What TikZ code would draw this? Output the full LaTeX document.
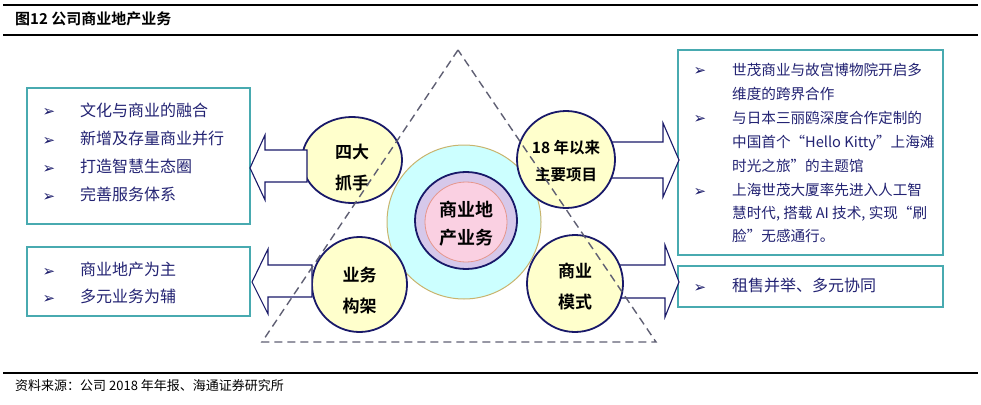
\documentclass[tikz,border=0pt]{standalone}
\usepackage{fontspec}
\setmainfont{Noto Sans CJK SC}[BoldFont={Noto Sans CJK SC Bold}]
\newfontfamily\dejavu{DejaVu Sans}
\usetikzlibrary{shapes.geometric}
\definecolor{teal1}{RGB}{72,170,176}
\definecolor{navy1}{RGB}{25,25,105}
\definecolor{txtblue}{RGB}{35,35,115}
\definecolor{circfill}{RGB}{255,255,204}
\definecolor{cyanfill}{RGB}{204,255,255}
\definecolor{tanline}{RGB}{200,180,110}
\definecolor{purplefill}{RGB}{214,200,234}
\definecolor{pinkfill}{RGB}{250,208,226}
\definecolor{salmon}{RGB}{230,150,140}
\definecolor{dashgray}{RGB}{95,95,115}
\tikzset{
  infobox/.style={draw=teal1, line width=2.2pt, fill=white},
  smallcirc/.style={ellipse, draw=navy1, line width=1.8pt, fill=circfill, inner sep=0pt},
  circlabel/.style={font=\bfseries\fontsize{17}{31}\selectfont, align=center, inner sep=0pt},
  blockarrow/.style={draw=navy1, line width=1.1pt, fill=white, line join=miter},
  bul/.style={font=\dejavu\fontsize{15}{15}\selectfont, text=navy1, inner sep=0pt},
  itemL/.style={font=\fontsize{16}{16}\selectfont, text=txtblue, anchor=west, inner sep=0pt, text height=0.85em, text depth=0.15em},
  itemR/.style={font=\fontsize{14.6}{14.6}\selectfont, text=txtblue, anchor=west, inner sep=0pt, text height=0.85em, text depth=0.15em},
  tri/.style={draw=dashgray, line width=1.4pt, dash pattern=on 8pt off 5pt}
}
\begin{document}
\begin{tikzpicture}[x=1pt,y=-1pt]
\useasboundingbox (0,0) rectangle (981,404);
% header and footer rules
\coordinate (hl1) at (3,5); \coordinate (hr1) at (978,5);
\coordinate (hl2) at (3,35); \coordinate (hr2) at (978,35);
\coordinate (fl) at (3,373); \coordinate (fr) at (978,373);
\draw[line width=1.3pt] (hl1) -- (hr1);
\draw[line width=1.3pt] (hl2) -- (hr2);
\draw[line width=1.3pt] (fl) -- (fr);
\node[anchor=west, font=\bfseries\fontsize{15}{15}\selectfont, inner sep=0pt, text height=0.85em, text depth=0.15em] (title) at (15,21) {图12 公司商业地产业务};
\node[anchor=west, font=\fontsize{13}{13}\selectfont, inner sep=0pt, text height=0.85em, text depth=0.15em] (source) at (15,387) {资料来源：公司 2018 年年报、海通证券研究所};

% left boxes
\draw[infobox] (27,88) rectangle (250,224);
\draw[infobox] (27,247) rectangle (250,316);
\node[bul] (lb1) at (49,113) {➢};
\node[itemL] (lt1) at (80,113) {文化与商业的融合};
\node[bul] (lb2) at (49,141) {➢};
\node[itemL] (lt2) at (80,141) {新增及存量商业并行};
\node[bul] (lb3) at (49,169) {➢};
\node[itemL] (lt3) at (80,169) {打造智慧生态圈};
\node[bul] (lb4) at (49,197) {➢};
\node[itemL] (lt4) at (80,197) {完善服务体系};
\node[bul] (lb5) at (49,272) {➢};
\node[itemL] (lt5) at (80,272) {商业地产为主};
\node[bul] (lb6) at (49,299) {➢};
\node[itemL] (lt6) at (80,299) {多元业务为辅};

% right boxes
\draw[infobox] (678,50) rectangle (943,255);
\draw[infobox] (678,266) rectangle (943,307);
\node[bul] (rb1) at (700,72) {➢};
\node[itemR] (rt1) at (732,72) {世茂商业与故宫博物院开启多};
\node[itemR] (rt2) at (732,96) {维度的跨界合作};
\node[bul] (rb2) at (700,120) {➢};
\node[itemR] (rt3) at (732,120) {与日本三丽鸥深度合作定制的};
\node[itemR] (rt4) at (732,144) {中国首个“Hello Kitty”上海滩};
\node[itemR] (rt5) at (732,168) {时光之旅”的主题馆};
\node[bul] (rb3) at (700,192) {➢};
\node[itemR] (rt6) at (732,192) {上海世茂大厦率先进入人工智};
\node[itemR] (rt7) at (732,215) {慧时代, 搭载 AI 技术, 实现“刷};
\node[itemR] (rt8) at (732,238) {脸”无感通行。};
\node[bul] (rb4) at (700,288) {➢};
\node[itemR, font=\fontsize{16}{16}\selectfont] (rt9) at (732,288) {租售并举、多元协同};

% right arrows (behind circles)
\coordinate (ra1) at (679,160);
\draw[blockarrow] (ra1) -- ++(-16,-37) -- ++(0,19) -- ++(-95,0) -- ++(0,36) -- ++(95,0) -- ++(0,19) -- cycle;
\coordinate (ra2) at (679,282);
\draw[blockarrow] (ra2) -- ++(-14,-37) -- ++(0,20) -- ++(-90,0) -- ++(0,33) -- ++(90,0) -- ++(0,19) -- cycle;

% central circles
\node[circle, draw=tanline, line width=1pt, fill=cyanfill, minimum size=154pt, inner sep=0pt] (core3) at (464,222) {};
\node[ellipse, draw=navy1, line width=1.8pt, fill=purplefill, minimum width=102pt, minimum height=97pt, inner sep=0pt] (core2) at (466,220.5) {};
\node[ellipse, draw=salmon, line width=0.8pt, fill=pinkfill, minimum width=82pt, minimum height=80pt, inner sep=0pt] (core1) at (466,222) {};
\node[circlabel, font=\bfseries\fontsize{18}{28}\selectfont] (coretxt) at (466,224) {商业地\\产业务};

% small circles
\node[smallcirc, minimum width=100pt, minimum height=86pt] (c1) at (352,160) {};
\node[smallcirc, minimum width=98pt, minimum height=97pt] (c2) at (566,159.5) {};
\node[smallcirc, minimum width=95pt, minimum height=95pt] (c3) at (359.5,284.5) {};
\node[smallcirc, minimum width=96pt, minimum height=97pt] (c4) at (575,283.5) {};
\node[circlabel] (c1t) at (352,168) {四大\\抓手};
\node[circlabel, font=\bfseries\fontsize{15.5}{27}\selectfont] (c2t) at (566,161.5) {18 年以来\\主要项目};
\node[circlabel] (c3t) at (359.5,291) {业务\\构架};
\node[circlabel] (c4t) at (575,286) {商业\\模式};

% left arrows (on top)
\coordinate (la1) at (250,168);
\draw[blockarrow] (la1) -- ++(15,-33) -- ++(0,15) -- ++(42,0) -- ++(0,32) -- ++(-42,0) -- ++(0,18) -- cycle;
\coordinate (la2) at (252,282);
\draw[blockarrow] (la2) -- ++(16,-33) -- ++(0,16) -- ++(44,0) -- ++(0,32) -- ++(-44,0) -- ++(0,17) -- cycle;

% dashed triangle
\coordinate (tA) at (458,50);
\coordinate (tB) at (262,342);
\coordinate (tC) at (656,342);
\draw[tri] (tA) -- (tB) -- (tC) -- cycle;
\end{tikzpicture}
\end{document}
